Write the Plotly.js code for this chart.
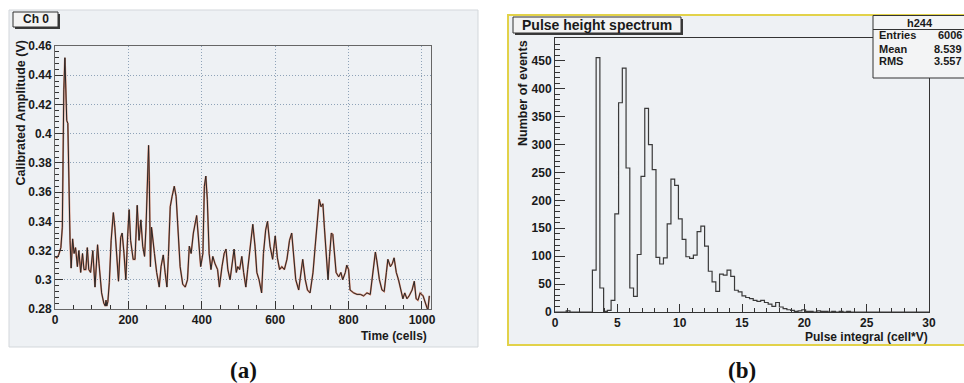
<!DOCTYPE html>
<html>
<head>
<meta charset="utf-8">
<script src="https://cdn.plot.ly/plotly-3.0.1.min.js"></script>
<style>html,body{margin:0;padding:0;background:#fff;}#chart{width:964px;height:383px;}</style>
</head>
<body>
<div id="chart"></div>
<script>
// ---- Panel (a): calibrated waveform ----
const timeCells = [0,5,10,16,20,24,27,30,32,35,38,41,44,48,52,56,61,65,70,75,79,84,88,92,97,103,109,116,120,127,133,137,139,141,144,148,153,159,163,168,173,179,183,188,193,198,202,206,213,218,224,229,234,239,244,248,252,255,257,260,263,266,271,277,284,289,295,300,305,309,314,319,325,330,335,341,348,355,361,366,371,377,386,392,397,403,407,411,415,420,425,430,436,443,448,455,461,466,471,477,483,488,494,498,503,509,514,520,525,532,539,545,550,556,563,568,574,579,586,593,600,606,612,618,625,632,639,645,650,656,664,670,675,682,688,695,703,709,715,720,725,730,734,739,744,748,753,757,762,766,773,779,784,791,795,800,804,814,823,832,841,850,859,866,873,877,884,891,897,903,907,914,919,924,930,936,941,948,953,959,965,973,979,984,989,995,1003,1009,1014,1016,1020];
const amplitude = [0.316,0.315,0.317,0.322,0.336,0.430,0.452,0.425,0.409,0.407,0.354,0.327,0.308,0.328,0.318,0.322,0.309,0.320,0.305,0.318,0.307,0.307,0.322,0.307,0.305,0.320,0.295,0.324,0.311,0.291,0.284,0.282,0.286,0.282,0.285,0.298,0.327,0.346,0.336,0.314,0.299,0.329,0.332,0.318,0.300,0.330,0.348,0.327,0.314,0.314,0.351,0.327,0.341,0.323,0.316,0.336,0.371,0.392,0.368,0.309,0.336,0.327,0.318,0.305,0.295,0.309,0.317,0.305,0.295,0.316,0.350,0.357,0.364,0.357,0.336,0.309,0.297,0.295,0.300,0.323,0.318,0.332,0.344,0.327,0.309,0.318,0.364,0.371,0.355,0.318,0.307,0.316,0.311,0.307,0.295,0.309,0.318,0.321,0.307,0.300,0.314,0.321,0.305,0.309,0.307,0.316,0.305,0.295,0.307,0.323,0.338,0.323,0.305,0.300,0.291,0.318,0.334,0.340,0.323,0.314,0.330,0.315,0.307,0.309,0.307,0.314,0.327,0.332,0.318,0.300,0.293,0.305,0.314,0.300,0.293,0.291,0.305,0.323,0.341,0.355,0.350,0.352,0.336,0.314,0.300,0.316,0.332,0.331,0.318,0.305,0.302,0.305,0.300,0.305,0.310,0.307,0.293,0.291,0.290,0.290,0.289,0.291,0.290,0.305,0.319,0.313,0.300,0.293,0.292,0.305,0.314,0.309,0.311,0.315,0.305,0.300,0.294,0.287,0.291,0.287,0.289,0.293,0.299,0.287,0.286,0.291,0.289,0.284,0.279,0.279,0.289];
const timeTickVals = [0,200,400,600,800,1000];
const ampTickVals = [0.28,0.30,0.32,0.34,0.36,0.38,0.40,0.42,0.44,0.46];
const ampTickLabels = ['0.28','0.3','0.32','0.34','0.36','0.38','0.4','0.42','0.44','0.46'];

// ---- Panel (b): pulse height spectrum (bins of 0.3 cell*V from 0 to 30) ----
const binWidth = 0.3;
const binCounts = [0,0,0,2,0,0,0,0,0,0,
  75,456,43,1,3,21,176,375,437,258,
  43,28,103,243,365,300,255,98,86,97,
  158,238,227,167,130,99,96,102,144,154,
  118,73,54,37,68,66,75,64,39,36,
  29,26,24,21,19,21,17,14,10,17,
  9,6,4,3,1,2,4,1,1,0,
  2,1,1,0,1,0,1,0,1,0,
  0,0,0,0,0,0,0,0,0,0,
  0,0,0,0,0,0,0,0,0,0];
const statsTitle = 'h244';
const statsLabels = ['Entries','Mean','RMS'];
const statsValues = ['6006','8.539','3.557'];

const binEdges = binCounts.map((_, i) => i * binWidth).concat([binCounts.length * binWidth]);
const stepCounts = binCounts.concat([binCounts[binCounts.length - 1]]);

const W = 964, H = 383;
const px = x => x / W;
const py = y => 1 - y / H;

const traces = [
  {x: timeCells, y: amplitude, xaxis: 'x', yaxis: 'y', type: 'scatter', mode: 'lines',
   line: {color: '#dc8a70', width: 1.8}, hoverinfo: 'skip'},
  {x: timeCells, y: amplitude, xaxis: 'x', yaxis: 'y', type: 'scatter', mode: 'lines',
   line: {color: '#262626', width: 1}},
  {x: binEdges, y: stepCounts, xaxis: 'x2', yaxis: 'y2', type: 'scatter', mode: 'lines',
   line: {color: '#3a3a3a', width: 1.2, shape: 'hv'}}
];

const boldFont = {family: 'Liberation Sans, Arial, sans-serif', size: 12, color: '#1a1a1a', weight: 'bold'};
const smallBold = Object.assign({}, boldFont, {size: 11});

const layout = {
  width: W, height: H,
  margin: {l: 0, r: 0, t: 0, b: 0},
  paper_bgcolor: '#ffffff',
  plot_bgcolor: 'rgba(0,0,0,0)',
  showlegend: false,
  font: boldFont,
  xaxis: {
    domain: [px(55), px(430.8)], range: [0, 1024], anchor: 'y',
    showline: true, mirror: true, linecolor: '#666', linewidth: 1,
    tickmode: 'array', tickvals: timeTickVals,
    ticks: 'inside', ticklen: 8, tickcolor: '#333', tickwidth: 1,
    showgrid: true, gridcolor: '#8fa3b8', griddash: '1px,2px', gridwidth: 1,
    zeroline: false, tickfont: boldFont,
    minor: {ticks: 'inside', ticklen: 4, tickcolor: '#333', tick0: 0, dtick: 50, showgrid: false}
  },
  yaxis: {
    domain: [py(309), py(46)], range: [0.28, 0.46], anchor: 'x',
    showline: true, mirror: true, linecolor: '#666', linewidth: 1,
    tickmode: 'array', tickvals: ampTickVals, ticktext: ampTickLabels,
    ticks: 'inside', ticklen: 8, tickcolor: '#333', tickwidth: 1,
    showgrid: true, gridcolor: '#8fa3b8', griddash: '1px,2px', gridwidth: 1,
    zeroline: false, tickfont: boldFont,
    minor: {ticks: 'inside', ticklen: 4, tickcolor: '#333', tick0: 0.28, dtick: 0.004, showgrid: false}
  },
  xaxis2: {
    domain: [px(555), px(929)], range: [0, 30], anchor: 'y2',
    showline: true, mirror: true, linecolor: '#333', linewidth: 1,
    dtick: 5, tick0: 0,
    ticks: 'inside', ticklen: 8, tickcolor: '#333',
    showgrid: false, zeroline: false, tickfont: boldFont,
    minor: {ticks: 'inside', ticklen: 4, tickcolor: '#333', tick0: 0, dtick: 1}
  },
  yaxis2: {
    domain: [py(312), py(38)], range: [0, 491], anchor: 'x2',
    showline: true, mirror: true, linecolor: '#333', linewidth: 1,
    dtick: 50, tick0: 0,
    ticks: 'inside', ticklen: 10, tickcolor: '#333',
    showgrid: false, zeroline: false, tickfont: boldFont,
    minor: {ticks: 'inside', ticklen: 5, tickcolor: '#333', tick0: 0, dtick: 10}
  },
  shapes: [
    {type: 'rect', xref: 'paper', yref: 'paper', layer: 'below',
     x0: px(9), x1: px(478), y0: py(347), y1: py(10),
     fillcolor: '#eef1f4', line: {color: '#d3d7db', width: 1}},
    {type: 'rect', xref: 'paper', yref: 'paper', layer: 'below',
     x0: px(508), x1: px(975), y0: py(345), y1: py(15),
     fillcolor: '#eef1f4', line: {color: '#e2d24a', width: 2}},
    // Ch 0 title box with shadow
    {type: 'rect', xref: 'paper', yref: 'paper', layer: 'above',
     x0: px(15), x1: px(60), y0: py(29), y1: py(14), fillcolor: '#3a3a3a', line: {width: 0}},
    {type: 'rect', xref: 'paper', yref: 'paper', layer: 'above',
     x0: px(13), x1: px(58), y0: py(27), y1: py(12), fillcolor: '#f3f3f3', line: {color: '#333', width: 1}},
    // Pulse height spectrum title box with shadow
    {type: 'rect', xref: 'paper', yref: 'paper', layer: 'above',
     x0: px(515), x1: px(683), y0: py(35), y1: py(19), fillcolor: '#3a3a3a', line: {width: 0}},
    {type: 'rect', xref: 'paper', yref: 'paper', layer: 'above',
     x0: px(513), x1: px(681), y0: py(33), y1: py(17), fillcolor: '#f3f3f3', line: {color: '#333', width: 1}},
    // stats box
    {type: 'rect', xref: 'paper', yref: 'paper', layer: 'above',
     x0: px(873), x1: px(975), y0: py(78), y1: py(15.5), fillcolor: '#f3f4f5', line: {color: '#333', width: 1}},
    {type: 'line', xref: 'paper', yref: 'paper', layer: 'above',
     x0: px(873), x1: px(975), y0: py(29.5), y1: py(29.5), line: {color: '#333', width: 1}}
  ],
  annotations: []
};

function addText(text, x, y, opts) {
  layout.annotations.push(Object.assign({
    text: text, xref: 'paper', yref: 'paper', x: px(x), y: py(y),
    xanchor: 'center', yanchor: 'middle', showarrow: false,
    font: boldFont, borderpad: 0
  }, opts || {}));
}

addText('Ch 0', 35.5, 19.5);
addText('Calibrated Amplitude (V)', 20, 113.5, {textangle: -90, font: Object.assign({}, boldFont, {size: 12.5})});
addText('Time (cells)', 428, 336, {xanchor: 'right'});
addText('Pulse height spectrum', 597, 25, {font: Object.assign({}, boldFont, {size: 14})});
addText('Number of events', 523, 93, {textangle: -90, font: Object.assign({}, boldFont, {size: 12.5})});
addText('Pulse integral (cell*V)', 929, 337, {xanchor: 'right'});
addText(statsTitle, 920, 22.5, {font: smallBold});
statsLabels.forEach((lab, i) => {
  addText(lab, 878, 35.5 + i * 13, {xanchor: 'left', font: smallBold});
  addText(statsValues[i], 963, 35.5 + i * 13, {xanchor: 'right', font: smallBold});
});
const captionFont = {family: 'Liberation Serif, Times New Roman, serif', size: 23, color: '#111', weight: 'bold'};
addText('(a)', 243, 370, {font: captionFont});
addText('(b)', 742, 370, {font: captionFont});

Plotly.newPlot('chart', traces, layout, {staticPlot: true, displayModeBar: false});
</script>
</body>
</html>
